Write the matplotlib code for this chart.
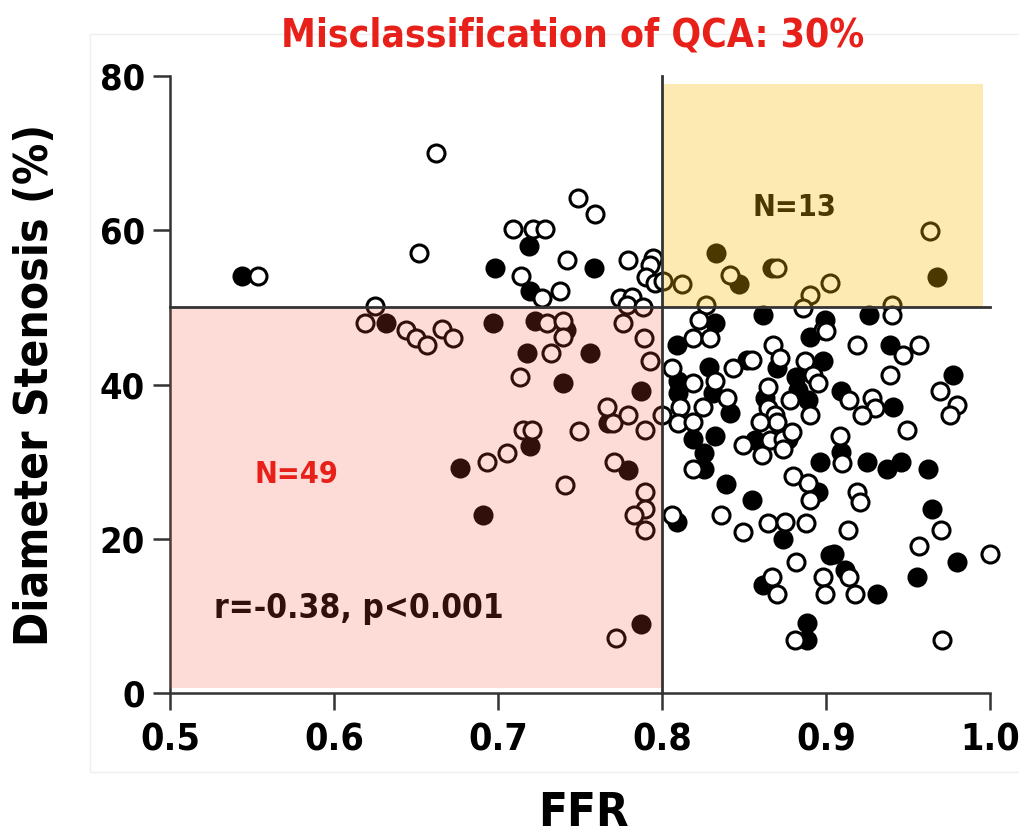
import matplotlib
matplotlib.use("Agg")
import matplotlib.pyplot as plt
from matplotlib.patches import Rectangle
from matplotlib import font_manager

# FFR vs QCA diameter stenosis, one pair of lists per marker type
open_ffr = [
    0.662, 0.5535, 0.652, 0.625, 0.619, 0.644, 0.650, 0.6565, 0.6657, 0.6728,
    0.749, 0.759, 0.709, 0.7215, 0.7287, 0.742, 0.714, 0.7266, 0.738, 0.7795,
    0.7947, 0.7927, 0.790, 0.7957, 0.7744, 0.7815, 0.7784, 0.7886, 0.7296, 0.7398,
    0.7398, 0.7764, 0.789, 0.7326, 0.793, 0.7134, 0.806, 0.7662, 0.770, 0.7795,
    0.7896, 0.7998, 0.7154, 0.7205, 0.7494, 0.6931, 0.7053, 0.771, 0.7409, 0.7896,
    0.7896, 0.783, 0.7896, 0.806, 0.7718,
    0.8415, 0.870, 0.812, 0.8008, 0.9024, 0.890, 0.886, 0.827, 0.9634, 0.940,
    0.8228, 0.819, 0.8293, 0.8984, 0.8679, 0.872, 0.8435, 0.8546, 0.819, 0.8323,
    0.8394, 0.8872, 0.892, 0.8953, 0.878, 0.890, 0.8648, 0.8648, 0.8689, 0.870,
    0.8598, 0.811, 0.8252, 0.810, 0.819, 0.8496, 0.8659, 0.874, 0.879, 0.8607,
    0.874, 0.819, 0.880, 0.889, 0.890, 0.836, 0.8496, 0.8648, 0.875, 0.888,
    0.882, 0.8669, 0.870, 0.8984, 0.8994, 0.881, 0.940, 0.900, 0.919, 0.947,
    0.957, 0.939, 0.9695, 0.9797, 0.9756, 0.9142, 0.9278, 0.930, 0.9217, 0.9496,
    0.9085, 0.9096, 0.919, 0.921, 0.970, 0.9136, 0.957, 1.000, 0.9142, 0.9177,
    0.971,
]
open_ds = [
    70.0, 54.1, 57.1, 50.2, 48.0, 47.1, 46.0, 45.1, 47.2, 46.0,
    64.2, 62.1, 60.1, 60.1, 60.1, 56.2, 54.1, 51.2, 52.1, 56.2,
    56.4, 55.5, 54.0, 53.1, 51.2, 51.4, 50.3, 50.1, 48.0, 48.2,
    46.2, 48.0, 46.0, 44.1, 43.0, 41.0, 42.2, 37.1, 35.0, 36.1,
    34.1, 36.1, 34.1, 34.1, 34.0, 30.0, 31.1, 30.0, 27.0, 26.1,
    23.9, 23.1, 21.1, 23.1, 7.1,
    54.2, 55.1, 53.0, 53.4, 53.1, 51.6, 49.9, 50.3, 59.9, 50.3,
    48.3, 46.0, 46.0, 47.1, 45.1, 43.4, 42.1, 43.2, 40.2, 40.4,
    38.2, 43.0, 41.2, 40.2, 38.0, 36.1, 39.7, 36.9, 36.1, 35.2,
    35.2, 37.1, 37.1, 35.0, 35.2, 32.2, 32.8, 33.0, 33.9, 30.9,
    31.7, 29.0, 28.1, 27.2, 25.0, 23.1, 20.9, 22.0, 22.2, 22.0,
    17.0, 15.1, 12.9, 15.1, 12.9, 6.9, 49.0, 46.9, 45.1, 43.8,
    45.1, 41.2, 39.1, 37.4, 36.1, 38.0, 38.2, 36.9, 36.1, 34.1,
    33.3, 29.8, 26.1, 24.8, 21.1, 21.1, 19.1, 18.0, 15.1, 12.9,
    6.9,
]

filled_ffr = [
    0.544, 0.632, 0.697, 0.698, 0.719, 0.7587, 0.7195, 0.7226, 0.7415, 0.718,
    0.756, 0.7398, 0.787, 0.809, 0.7673, 0.7195, 0.7795, 0.677, 0.691, 0.809,
    0.787,
    0.8327, 0.8472, 0.8668, 0.9675, 0.8618, 0.8323, 0.890, 0.8994, 0.870, 0.8516,
    0.8289, 0.810, 0.810, 0.8313, 0.882, 0.8984, 0.883, 0.889, 0.8628, 0.8415,
    0.819, 0.8323, 0.8567, 0.877, 0.8258, 0.8258, 0.839, 0.8546, 0.8953, 0.8963,
    0.874, 0.8618, 0.9024, 0.8886, 0.8886, 0.9264, 0.939, 0.9776, 0.909, 0.941,
    0.909, 0.9248, 0.937, 0.946, 0.9624, 0.9644, 0.9797, 0.9049, 0.9116, 0.931,
    0.9553,
]
filled_ds = [
    54.1, 48.0, 48.0, 55.1, 58.0, 55.1, 52.1, 48.2, 47.1, 44.1,
    44.1, 40.2, 39.2, 45.1, 35.0, 32.0, 28.9, 29.2, 23.1, 22.2,
    9.0,
    57.1, 53.0, 55.1, 54.0, 49.0, 48.0, 46.2, 48.3, 42.1, 43.2,
    42.3, 40.4, 38.9, 38.9, 41.0, 43.0, 39.3, 38.0, 38.2, 36.3,
    33.0, 33.3, 32.8, 33.0, 31.1, 29.1, 27.1, 25.0, 26.1, 30.0,
    20.0, 14.0, 17.9, 9.1, 6.9, 49.0, 45.1, 41.2, 39.1, 37.1,
    31.2, 30.0, 29.0, 30.0, 29.0, 23.9, 17.0, 18.0, 16.0, 12.9,
    15.1,
]

FFR_CUT = 0.8
DS_CUT = 50


def bold_font(size):
    # prefer a narrow/condensed bold face if one is installed
    for f in font_manager.fontManager.ttflist:
        tag = (f.name + " " + f.fname).lower()
        if ("narrow" in tag or "condensed" in tag) and f.weight in (700, "bold") and f.style == "normal":
            return font_manager.FontProperties(fname=f.fname, size=size)
    return font_manager.FontProperties(family="Liberation Sans", weight="bold", size=size)


fig = plt.figure(figsize=(10.19, 8.39), dpi=100)
ax = fig.add_axes([0.1668, 0.174, 0.8047, 0.7354])

# faint frame around the panel
fig.patches.append(Rectangle((0.088, 0.08), 0.92, 0.88, transform=fig.transFigure,
                             fill=False, edgecolor="#efefef", lw=1.0))

ax.scatter(filled_ffr, filled_ds, s=150, facecolor="black", edgecolor="black",
           linewidths=2.2, zorder=2, clip_on=False)
ax.scatter(open_ffr, open_ds, s=150, facecolor="white", edgecolor="black",
           linewidths=2.2, zorder=2.1, clip_on=False)

# text that sits under the tinted quadrants
ax.text(0.881, 63.0, "N=13", ha="center", va="center", color="black", zorder=2.5,
        fontproperties=bold_font(22))
ax.text(0.527, 11.0, "r=-0.38, p<0.001", ha="left", va="center", color="black",
        zorder=2.5, fontproperties=bold_font(24))

# tinted quadrants
ax.add_patch(Rectangle((0.5, 0.7), FFR_CUT - 0.5, DS_CUT - 0.7, facecolor=(0.97, 0.30, 0.20),
                       alpha=0.20, edgecolor="none", zorder=3))
ax.add_patch(Rectangle((FFR_CUT, DS_CUT), 0.9957 - FFR_CUT, 78.9 - DS_CUT,
                       facecolor=(0.98, 0.72, 0.0), alpha=0.30, edgecolor="none", zorder=3))

ax.text(0.5774, 28.3, "N=49", ha="center", va="center", color="#e8201a", zorder=5,
        fontproperties=bold_font(22))

ax.plot([0.5, 1.0], [DS_CUT, DS_CUT], color="#333333", lw=2.0, zorder=4, clip_on=False)
ax.plot([FFR_CUT, FFR_CUT], [0, 80], color="#333333", lw=2.0, zorder=4, clip_on=False)

ax.set_xlim(0.5, 1.0)
ax.set_ylim(0, 80)
ax.set_xticks([0.5, 0.6, 0.7, 0.8, 0.9, 1.0])
ax.set_xticklabels(["0.5", "0.6", "0.7", "0.8", "0.9", "1.0"], fontproperties=bold_font(27))
ax.set_yticks([0, 20, 40, 60, 80])
ax.set_yticklabels(["0", "20", "40", "60", "80"], fontproperties=bold_font(26))
for side in ("top", "right"):
    ax.spines[side].set_visible(False)
for side in ("left", "bottom"):
    ax.spines[side].set_linewidth(1.8)
    ax.spines[side].set_color("#333333")
ax.tick_params(axis="both", direction="out", length=12, width=1.8, color="#333333")
ax.tick_params(axis="x", pad=9)
ax.tick_params(axis="y", pad=6)
ax.patch.set_alpha(0)

ax.set_xlabel("FFR", fontproperties=bold_font(34))
ax.xaxis.set_label_coords(0.504, -0.158)
ax.set_ylabel("Diameter Stenosis (%)", fontproperties=bold_font(33))
ax.yaxis.set_label_coords(-0.137, 0.5)
fig.text(0.562, 0.958, "Misclassification of QCA: 30%", ha="center", va="center",
         color="#e8201a", fontproperties=bold_font(28))

fig.savefig("out.png", dpi=100)
